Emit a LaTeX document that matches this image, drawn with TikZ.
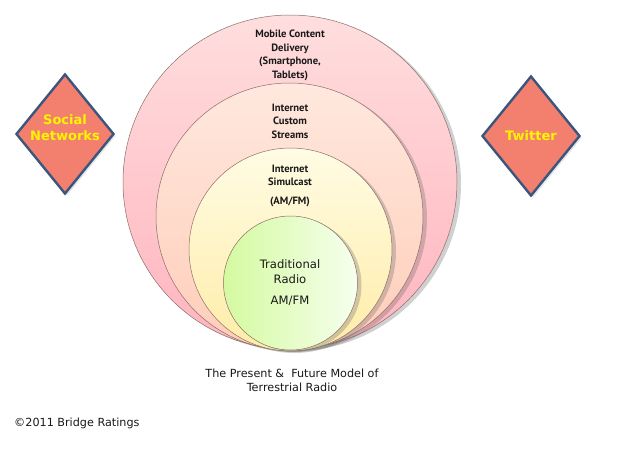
\documentclass[tikz,border=0pt]{standalone}
\usepackage{fontspec}
\setmainfont{DejaVu Sans}
\newfontfamily\ptsans{PT Sans}
\usetikzlibrary{shapes.geometric,shadows}
\definecolor{ringline}{RGB}{140,110,105}
\definecolor{outerTop}{RGB}{255,222,222}
\definecolor{outerBot}{RGB}{255,180,190}
\definecolor{secTop}{RGB}{255,232,222}
\definecolor{secBot}{RGB}{255,205,185}
\definecolor{thirdTop}{RGB}{255,252,228}
\definecolor{thirdBot}{RGB}{255,236,168}
\definecolor{innerLeft}{RGB}{212,250,160}
\definecolor{innerRight}{RGB}{246,255,238}
\definecolor{diaFill}{RGB}{243,128,110}
\definecolor{diaLine}{RGB}{60,85,125}
\definecolor{diaText}{RGB}{255,245,0}
\definecolor{txt}{RGB}{25,25,25}
\tikzset{
  ring/.style={circle, draw=ringline, line width=0.5pt, inner sep=0pt,
    drop shadow={shadow xshift=4pt, shadow yshift=-2pt, opacity=0.3, fill=black!60}},
  dia/.style={diamond, draw=diaLine, line width=2.4pt, fill=diaFill, inner sep=0pt,
    minimum width=98pt, minimum height=120pt,
    drop shadow={shadow xshift=2pt, shadow yshift=-2pt, opacity=0.2, fill=black!50}},
  diatxt/.style={text=diaText, align=center, inner sep=0pt,
    font=\bfseries\fontsize{13}{16}\selectfont},
  ringtxt/.style={text=txt, align=center, inner sep=0pt,
    font=\ptsans\bfseries\fontsize{10.6}{13.5}\selectfont},
  plaintxt/.style={text=txt, align=center, inner sep=0pt,
    font=\fontsize{11.6}{15}\selectfont},
  captxt/.style={text=txt, align=center, inner sep=0pt,
    font=\fontsize{11.2}{14}\selectfont}
}
\begin{document}
\begin{tikzpicture}[x=1pt,y=-1pt]
\useasboundingbox[fill=white] (0,0) rectangle (634,469);
% nested circles
\node[ring, minimum size=334pt, top color=outerTop, bottom color=outerBot] (outer) at (290,182) {};
\node[ring, minimum size=267pt, top color=secTop, bottom color=secBot] (second) at (289.5,216.5) {};
\node[ring, minimum size=203pt, top color=thirdTop, bottom color=thirdBot] (third) at (290.5,249.5) {};
\node[ring, minimum size=134pt, left color=innerLeft, right color=innerRight] (inner) at (290.5,283) {};
% circle texts
\node[ringtxt] (mobile) at (290,55.5) {Mobile Content\\Delivery\\(Smartphone,\\Tablets)};
\node[ringtxt] (custom) at (290,121) {Internet\\Custom\\Streams};
\node[ringtxt] (simul) at (290,186) {Internet\\Simulcast\\[5.5pt](AM/FM)};
\node[plaintxt] (trad) at (290,283) {Traditional\\Radio\\[6pt]AM/FM};
% caption
\node[captxt] (caption) at (292,380) {The Present \&~~Future Model of\\Terrestrial Radio};
\node[captxt, anchor=west] (copy) at (14,423) {\textcopyright 2011 Bridge Ratings};
% diamonds
\node[dia] (social) at (65,134) {};
\node[diatxt] (socialtxt) at (65,128) {Social\\Networks};
\node[dia] (twitter) at (531,136) {};
\node[diatxt] (twittertxt) at (twitter.center) {Twitter};
\end{tikzpicture}
\end{document}
